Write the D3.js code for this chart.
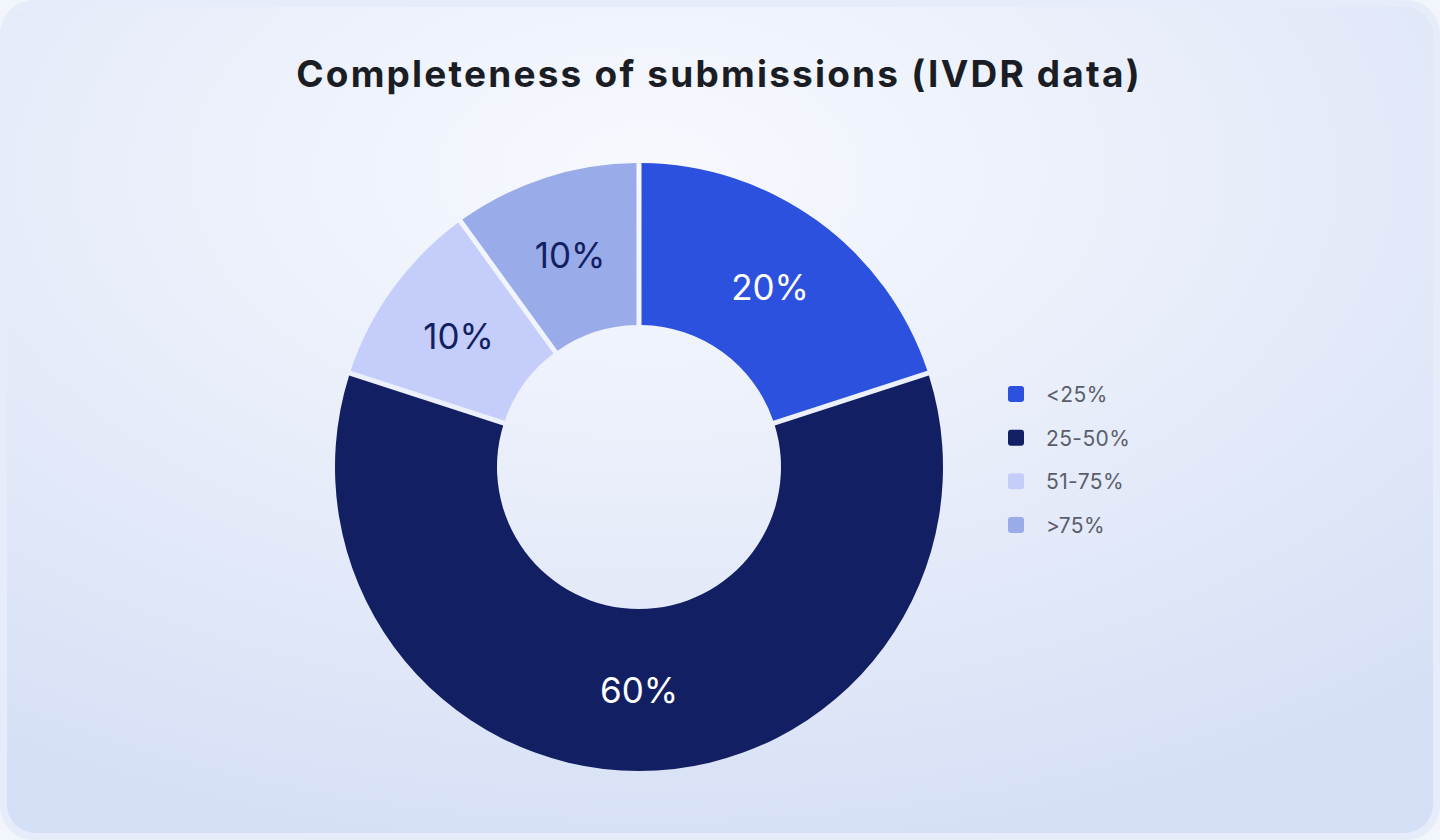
<!DOCTYPE html>
<html><head><meta charset="utf-8">
<script src="https://cdn.jsdelivr.net/npm/d3@7"></script>
<style>
html,body{margin:0;padding:0;background:#f3f5fc;}
svg{display:block;}
</style></head>
<body>
<svg id="chart" width="1440" height="840"></svg>
<script>
const title = "Completeness of submissions (IVDR data)";
const categories = ["<25%", "25-50%", "51-75%", ">75%"];
const values = [20, 60, 10, 10];
const colors = ["#2c51de", "#121f63", "#c5cefa", "#9aabe9"];
const labelColors = ["#ffffff", "#ffffff", "#131f63", "#131f63"];

const W = 1440, H = 840;
const svg = d3.select("#chart");
const defs = svg.append("defs");
const grad = defs.append("radialGradient").attr("id", "bg")
  .attr("cx", "0.45").attr("cy", "0.2").attr("r", "0.85")
  .attr("fx", "0.45").attr("fy", "0.2");
grad.append("stop").attr("offset", "0").attr("stop-color", "#f7f9fe");
grad.append("stop").attr("offset", "0.45").attr("stop-color", "#e9eefa");
grad.append("stop").attr("offset", "1").attr("stop-color", "#d5dff5");

svg.append("rect").attr("x", 0).attr("y", 0).attr("width", W).attr("height", H)
  .attr("rx", 34).attr("fill", "#e7ecfb");
svg.append("rect").attr("x", 7).attr("y", 7).attr("width", W - 14).attr("height", H - 14)
  .attr("rx", 28).attr("fill", "url(#bg)");

svg.append("text").attr("x", 719).attr("y", 87).attr("text-anchor", "middle")
  .attr("font-family", "Inter, 'Open Sans', sans-serif").attr("font-weight", 700)
  .attr("font-size", 37).attr("fill", "#1b1d24").attr("letter-spacing", "2.2")
  .text(title);

const cx = 639, cy = 467, rOuter = 304, rInner = 142;
const pie = d3.pie().value(d => d).sort(null);
const arc = d3.arc().innerRadius(rInner).outerRadius(rOuter)
  .padAngle(5 / 300).padRadius(300);
const arcs = pie(values);
const g = svg.append("g").attr("transform", `translate(${cx},${cy})`);
g.selectAll("path").data(arcs).join("path")
  .attr("d", arc).attr("fill", (d, i) => colors[i]);
const labelArc = d3.arc().innerRadius(rInner).outerRadius(rOuter);
g.selectAll("text").data(arcs).join("text")
  .attr("transform", d => { const c = labelArc.centroid(d); return `translate(${c[0]},${c[1] + 13})`; })
  .attr("text-anchor", "middle")
  .attr("font-family", "Inter, 'Open Sans', sans-serif").attr("font-weight", 400)
  .attr("font-size", 35).attr("fill", (d, i) => labelColors[i])
  .text(d => d.data + "%");

const y = d3.scalePoint().domain(categories).range([394, 525]);
const lg = svg.append("g");
const items = lg.selectAll("g").data(categories).join("g")
  .attr("transform", d => `translate(1008,${y(d)})`);
items.append("rect").attr("x", 0).attr("y", -8).attr("width", 16).attr("height", 16)
  .attr("rx", 3).attr("fill", (d, i) => colors[i]);
items.append("text").attr("x", 38).attr("y", 8)
  .attr("font-family", "Inter, 'Open Sans', sans-serif").attr("font-size", 21)
  .attr("fill", "#5a5e6b").attr("letter-spacing", "0.4").text(d => d);
</script>
</body></html>
